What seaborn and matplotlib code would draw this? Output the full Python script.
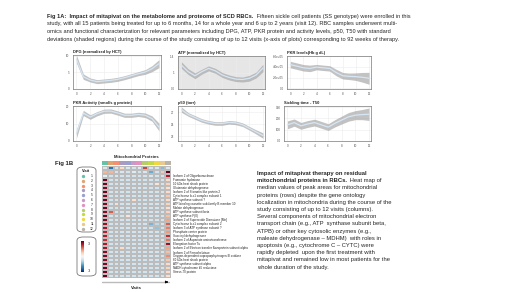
import numpy as np
import pandas as pd
import matplotlib
matplotlib.use("Agg")
import matplotlib.pyplot as plt
import seaborn as sns
from matplotlib.patches import FancyBboxPatch
from matplotlib.colors import ListedColormap

sns.set_style("white")
plt.rcParams['font.family'] = ['Liberation Sans', 'DejaVu Sans']

W, H = 520, 292

# ---- panel data (visit index 0..12) ----
visits = list(range(13))
dpg = [9.0, 3.7, 2.7, 2.2, 2.4, 2.6, 2.9, 3.4, 4.0, 4.6, 5.1, 6.1, 7.6]
dpg_sd = [1.2, 0.8, 0.6, 0.6, 0.6, 0.6, 0.6, 0.6, 0.6, 0.6, 0.7, 0.9, 1.2]
atp = [1.18, 1.02, 0.92, 1.02, 1.10, 1.04, 0.94, 0.88, 0.84, 0.83, 0.86, 0.94, 1.11]
atp_sd = [0.08, 0.07, 0.07, 0.06, 0.06, 0.06, 0.06, 0.06, 0.06, 0.06, 0.07, 0.07, 0.09]
pkr_lvl = [4.41e5, 4.12e5, 3.82e5, 3.71e5, 3.94e5, 3.82e5, 3.71e5, 2.94e5, 2.35e5, 2.24e5, 2.18e5, 2.06e5, 1.88e5]
pkr_lvl_sd = [0.6e5, 0.6e5, 0.6e5, 0.6e5, 0.5e5, 0.5e5, 0.5e5, 0.6e5, 0.6e5, 0.6e5, 0.7e5, 0.9e5, 1.1e5]
pkr_act = [4.2, 16.0, 13.7, 15.6, 17.0, 17.1, 16.0, 14.7, 14.7, 15.2, 14.7, 12.8, 8.0]
pkr_act_sd = [2.5, 1.5, 1.3, 1.2, 1.2, 1.2, 1.2, 1.2, 1.2, 1.2, 1.3, 1.5, 2.2]
p50 = [27.4, 26.6, 26.1, 25.6, 25.3, 25.1, 25.1, 25.3, 25.2, 24.9, 24.3, 23.7, 23.1]
p50_sd = [0.45, 0.3, 0.3, 0.3, 0.3, 0.3, 0.3, 0.3, 0.3, 0.3, 0.3, 0.35, 0.45]
t50 = [143, 163, 134, 151, 163, 143, 123, 157, 186, 214, 229, 234, 237]
t50_sd = [35, 32, 30, 30, 30, 30, 30, 32, 35, 38, 40, 45, 55]

xticks = [0, 2, 4, 6, 8, 10, 12]

# ---- heatmap data ----
proteins = ["", "",
            "Isoform 2 of Oligoribonuclease", "Fumarate hydratase",
            "10 kDa heat shock protein", "Glutamate dehydrogenase",
            "Isoform 2 of Stomatin-like protein 2", "Cytochrome b-c1 complex subunit 1",
            "ATP synthase subunit ?", "ATP-binding cassette sub-family B member 10",
            "Malate dehydrogenase", "ATP synthase subunit beta", "ATP synthase F(0)",
            "Isoform 2 of Superoxide Dismutase [Mn]", "Cytochrome b-c1 complex subunit 2",
            "Isoform 3 of ATP synthase subunit ?", "Phosphate carrier protein",
            "Succinyl dehydrogenase", "Isoform 2 of Aspartate aminotransferase",
            "Elongation factor Tu", "Isoform 2 of Electron transfer flavoprotein subunit alpha",
            "Isoform 2 of Ferrochelatase", "Oxygen-dependent coproporphyrinogen-III oxidase",
            "60 kDa heat shock protein", "ATP synthase subunit alpha",
            "NADH-cytochrome b5 reductase", "Stress-70 protein", ""]
visit_labels = [str(v) for v in range(1, 13)]
heat = [
    [-0.5, -2.2, -0.6, 0.6, -0.5, -0.6, -0.4, 2.0, -0.6, -0.5, -1.3, -0.5],
    [1.0, 1.0, -0.6, -0.5, -0.6, -0.4, -0.6, -0.5, -1.5, -0.6, 0.8, 3.0],
    [-0.3, -0.6, -0.5, -0.6, -0.6, -0.6, -0.6, -0.6, -0.5, -0.6, -0.6, 2.4],
    [2.9, -0.6, -0.6, -0.6, -0.6, -0.6, -0.6, -0.6, -0.6, -0.6, -0.6, 0.6],
    [2.9, -0.6, -0.6, -0.5, -0.6, -0.6, -0.6, -0.6, -0.6, 0.4, -0.6, 0.7],
    [2.8, -0.6, -0.6, -0.6, -0.6, -0.6, -0.5, -0.6, -0.6, -0.6, -0.6, 0.5],
    [2.9, -0.6, -0.6, -0.6, -0.6, -0.6, -0.6, -0.6, -0.6, -0.6, -0.6, 0.6],
    [2.8, -0.6, -0.6, -0.6, -0.6, -0.6, -0.6, -0.6, -0.6, -0.6, -0.4, 0.8],
    [2.9, -0.6, -0.6, -0.6, -0.6, 0.5, -0.6, -0.6, -0.6, -0.6, -0.6, 0.6],
    [2.8, -0.6, 0.5, -0.6, -0.6, -0.6, -0.6, -0.6, -0.6, -0.6, -0.6, 0.7],
    [2.9, -0.6, -0.6, -0.6, -0.6, -0.6, -0.6, -0.6, -0.6, -0.6, -0.6, 0.5],
    [2.7, 1.8, -0.6, -0.6, -0.6, -0.6, -0.6, -0.6, -0.6, -0.6, -0.6, 0.7],
    [2.9, -0.6, -0.6, -0.6, 0.4, -0.6, -0.6, -0.6, -0.6, -0.6, -0.6, 0.9],
    [2.8, -0.6, -0.6, -0.6, -0.6, -0.6, -0.6, -0.6, -0.6, -0.6, -0.6, 1.2],
    [2.6, -0.6, -0.6, -0.6, -0.6, -0.6, -0.6, -0.6, -1.4, -0.8, -0.6, 1.8],
    [2.5, -0.6, -0.6, -0.6, -0.6, -0.6, -0.6, -0.6, -0.6, -1.2, -0.6, 1.5],
    [2.3, -0.6, -0.6, -0.6, -0.6, -0.6, -0.6, -0.6, -0.6, -0.6, -0.6, 1.3],
    [2.4, -0.6, -0.6, -0.6, -0.6, -0.6, -0.6, -0.6, -0.6, -0.6, -0.6, 2.2],
    [2.2, -0.6, -0.6, -0.6, -0.6, -0.6, -0.6, -0.6, -0.6, -0.6, -0.6, 1.6],
    [2.4, -0.6, -0.6, -0.6, -0.6, -0.6, -0.6, -0.6, -0.6, -0.6, -0.6, 2.6],
    [2.5, -0.6, -0.6, 0.6, -0.6, -0.6, -0.6, -0.6, -0.6, -0.6, -0.6, 1.2],
    [2.7, -0.6, -0.6, -0.6, -0.6, -0.6, -0.6, -0.6, -0.6, -0.6, -0.6, 0.9],
    [2.8, -0.6, -0.6, -0.6, -0.6, -0.6, -0.6, -0.6, -0.6, -0.6, -0.6, 1.4],
    [2.7, -0.6, -0.6, -0.6, -0.6, -0.6, -0.6, -0.6, -0.6, -0.6, -0.6, 0.8],
    [2.8, -0.6, -0.6, -0.6, -0.6, -0.6, -0.6, -0.6, -0.6, -0.6, -0.6, 0.6],
    [2.9, -0.6, -0.6, -0.6, -0.6, -0.6, -0.6, -0.6, -0.6, -0.6, -0.6, 0.7],
    [2.9, -0.6, -0.6, -0.6, -0.6, -0.6, -0.6, -0.6, -0.6, -0.6, -0.6, 0.6],
    [3.0, -0.6, -0.6, -0.6, -0.6, -0.6, -0.6, -0.6, -0.6, -0.6, -0.6, 0.5],
]
visit_colors = ["#66c2a5", "#e0a46f", "#f49070", "#a99bc0", "#9a9fd0", "#c99ac8",
                "#e391c0", "#b7cc6a", "#c3d94a", "#f0d840", "#e9c98c", "#b9b3a8"]

fig = plt.figure(figsize=(W / 100, H / 100), dpi=100)
fig.patch.set_facecolor("white")


def px_axes(x0, y0, x1, y1):
    return fig.add_axes([x0 / W, 1 - y1 / H, (x1 - x0) / W, (y1 - y0) / H])


def ftext(x, y, s, **kw):
    return fig.text(x / W, 1 - y / H, s, **kw)


def mixed_line(x, y, bold, normal, size):
    t = ftext(x, y, bold, fontsize=size, fontweight="bold", va="baseline")
    r = fig.canvas.get_renderer()
    bb = t.get_window_extent(renderer=r)
    fig.text(bb.x1 / W + 1.2 / W, 1 - y / H, normal, fontsize=size, va="baseline")


# ---- header text ----
hs = 4.1
mixed_line(47, 18, "Fig 1A:  Impact of mitapivat on the metabolome and proteome of SCD RBCs.",
           " Fifteen sickle cell patients (SS genotype) were enrolled in this", hs)
ftext(47, 25.5, "study, with all 15 patients being treated for up to 6 months, 14 for a whole year and 6 up to 2 years (visit 12). RBC samples underwent multi-",
      fontsize=hs, va="baseline")
ftext(47, 33, "omics and functional characterization for relevant parameters including DPG, ATP, PKR protein and activity levels, p50, T50 with standard",
      fontsize=hs, va="baseline")
ftext(47, 40.5, "deviations (shaded regions) during the course of the study consisting of up to 12 visits (x-axis of plots) corresponding to 92 weeks of therapy.",
      fontsize=hs, va="baseline")

# ---- six smoothed panels ----
panels = [
    ((73, 55, 161, 89), "DPG (normalized by HCT)", dpg, dpg_sd, (0, 10.2), [0, 5, 10], ["0", "5", "10"], "white"),
    ((178, 56, 265, 89), "ATP (normalized by HCT)", atp, atp_sd, (0.6, 1.4), [0.6, 1.0, 1.4], ["0.6", "1", "1.4"], "#e6e6e6"),
    ((287, 56, 371, 89), "PKR levels(Hb g dL)", pkr_lvl, pkr_lvl_sd, (-0.1e5, 6.0e5), [0, 2e5, 4e5, 6e5],
     ["0.0", "2.0e+05", "4.0e+05", "6.0e+05"], "white"),
    ((73, 106, 161, 141), "PKR Activity (nmol/s g protein)", pkr_act, pkr_act_sd, (0, 20), [0, 10, 20], ["0", "10", "20"], "white"),
    ((178, 106, 265, 141), "p50 (torr)", p50, p50_sd, (22.2, 28.0), [23, 25, 27], ["23", "25", "27"], "white"),
    ((284, 106, 371, 141), "Sickling time - T50", t50, t50_sd, (0, 310), [0, 100, 200, 300], ["0.0", "100", "200", "300"], "white"),
]

for box, title, vals, sd, ylim, yt, ytl, bg in panels:
    ax = px_axes(*box)
    ax.set_facecolor(bg)
    v = np.array(vals)
    s = np.array(sd)
    ax.fill_between(visits, v - s, v + s, color="#a8a8a8", alpha=0.7, lw=0)
    sns.lineplot(x=visits, y=vals, ax=ax, color="#d6e6f5", lw=0.9)
    ax.set_xlim(-0.5, 12.3)
    ax.set_ylim(*ylim)
    ax.set_xticks(xticks)
    ax.set_xticklabels([str(t) for t in xticks])
    ax.set_yticks(yt)
    ax.set_yticklabels(ytl)
    ax.grid(True, color="#ececec", lw=0.4)
    ax.tick_params(labelsize=2.2, length=1, width=0.3, pad=1.5, colors="#555555")
    for sp in ax.spines.values():
        sp.set_color("#777777")
        sp.set_linewidth(0.5)
    ax.set_title(title, fontsize=2.9, fontweight="bold", loc="left", pad=1.2, color="#222222")

# ---- Fig 1B heatmap ----
ftext(55, 165, "Fig 1B", fontsize=4.3, fontweight="bold", va="baseline")
ftext(136, 156.5, "Mitochondrial Proteins", fontsize=3.0, fontweight="bold", ha="center", va="center")

hm = pd.DataFrame(heat, index=proteins, columns=visit_labels)
axh = px_axes(102, 166, 171, 278)
sns.heatmap(hm, ax=axh, cmap="RdBu_r", vmin=-3, vmax=3, cbar=False,
            linewidths=0.25, linecolor="#bcbcbc", xticklabels=False, yticklabels=True)
axh.yaxis.tick_right()
axh.tick_params(axis="y", labelsize=2.15, length=0, pad=1.5, rotation=0)
axh.set_ylabel("")

axa = px_axes(102, 161, 171, 165)
axa.imshow([list(range(12))], aspect="auto", cmap=ListedColormap(visit_colors))
axa.set_xticks([])
axa.set_yticks([])
for sp in axa.spines.values():
    sp.set_visible(False)

axr = px_axes(102, 279, 171, 285)
axr.set_xlim(0, 1)
axr.set_ylim(0, 1)
axr.axis("off")
axr.plot([0, 0.97], [0.5, 0.5], color="#bbbbbb", lw=1.0)
axr.annotate("", xy=(1.0, 0.5), xytext=(0.9, 0.5),
             arrowprops=dict(arrowstyle="-|>", color="black", lw=0.6, mutation_scale=3.5))
ftext(136, 288, "Visits", fontsize=3.0, fontweight="bold", ha="center", va="center")

# legend boxes
for (x0, y0, x1, y1) in [(77, 167, 96, 232), (77, 237, 96, 276)]:
    fig.patches.append(FancyBboxPatch((x0 / W, 1 - y1 / H), (x1 - x0) / W, (y1 - y0) / H,
                                      boxstyle="round,pad=0,rounding_size=0.012",
                                      transform=fig.transFigure, fc="none", ec="#777777", lw=0.6))
ftext(86.5, 171, "Visit", fontsize=2.8, fontweight="bold", ha="center", va="center")
for i, c in enumerate(visit_colors):
    yy = 176 + i * 4.8
    fig.add_artist(plt.Line2D([82.5 / W], [1 - yy / H], marker="o", ms=1.4, color=c, lw=0))
    ftext(92, yy, visit_labels[i], fontsize=2.4, ha="center", va="center")

axc = px_axes(81, 241, 84, 272)
axc.imshow(np.linspace(3, -3, 100).reshape(-1, 1), aspect="auto", cmap="RdBu_r", vmin=-3, vmax=3)
axc.set_xticks([])
axc.set_yticks([])
for sp in axc.spines.values():
    sp.set_visible(False)
ftext(89, 244, "3", fontsize=2.6, ha="center", va="center")
ftext(89.5, 271, "-3", fontsize=2.6, ha="center", va="center")

# ---- right text ----
rs = 4.2
ftext(257, 175, "Impact of mitapivat therapy on residual", fontsize=rs, fontweight="bold", va="baseline")
mixed_line(257, 182.2, "mitochondrial proteins in RBCs.", " Heat map of", rs)
body = ["median values of peak areas for mitochondrial",
        "proteins (rows) despite the gene ontology",
        "localization in mitochondria during the course of the",
        "study consisting of up to 12 visits (columns).",
        "Several components of mitochondrial electron",
        "transport chain (e.g., ATP  synthase subunit beta,",
        "ATPB) or other key cytosolic enzymes (e.g.,",
        "maleate dehydrogenase \u2013 MDHM)  with roles in",
        "apoptosis (e.g., cytochrome C \u2013 CYTC) were",
        "rapidly depleted  upon the first treatment with",
        "mitapivat and remained low in most patients for the",
        "whole duration of the study."]
for i, line in enumerate(body):
    ftext(257, 189.4 + i * 7.2, line, fontsize=rs, va="baseline")

fig.savefig("out.png", dpi=100)
